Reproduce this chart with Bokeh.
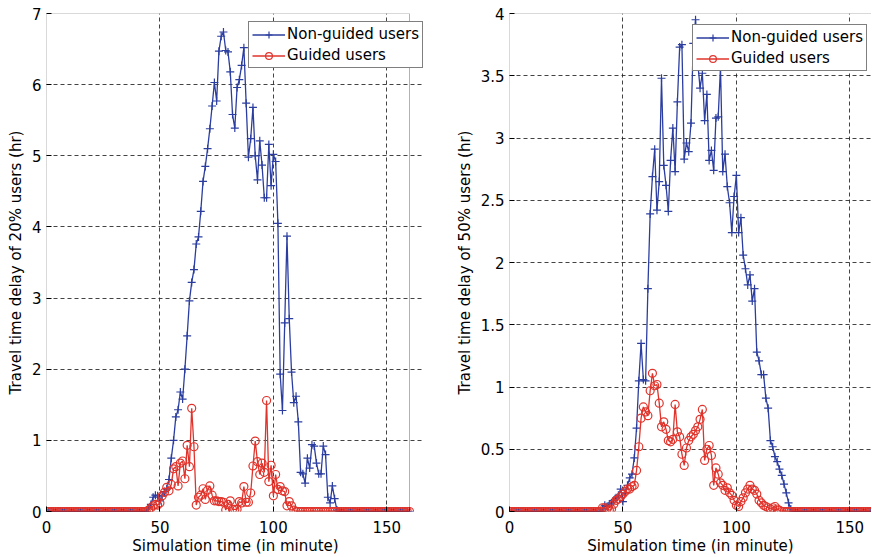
from bokeh.plotting import figure
from bokeh.layouts import row
from bokeh.models import FixedTicker, Range1d, Legend, PolyAnnotation
from bokeh.embed import file_html
from bokeh.resources import INLINE

# ---------------- data ----------------
time_min = list(range(0, 161))

# 20% guided scenario (left panel)
nonguided_20_nonzero = {
    45: 0.05, 46: 0.10, 47: 0.20, 48: 0.23, 49: 0.22, 50: 0.15, 51: 0.22, 52: 0.28,
    53: 0.32, 54: 0.45, 55: 0.75, 56: 1.00, 57: 1.33, 58: 1.43, 59: 1.68, 60: 1.58,
    61: 2.00, 62: 2.47, 63: 2.96, 64: 3.22, 65: 3.40, 66: 3.76, 67: 3.86, 68: 4.22,
    69: 4.64, 70: 4.85, 71: 5.10, 72: 5.38, 73: 5.70, 74: 6.03, 75: 5.77, 76: 6.47,
    77: 6.68, 78: 6.74, 79: 6.48, 80: 6.46, 81: 6.18, 82: 5.58, 83: 5.39, 84: 5.96,
    85: 6.07, 86: 6.27, 87: 6.52, 88: 5.74, 89: 4.98, 90: 5.24, 91: 5.68, 92: 5.00,
    93: 4.66, 94: 5.21, 95: 4.87, 96: 4.41, 97: 4.41, 98: 5.16, 99: 4.58, 100: 5.02,
    101: 4.92, 102: 4.05, 103: 1.93, 104: 1.42, 105: 2.65, 106: 3.87, 107: 2.71,
    108: 1.96, 109: 1.53, 110: 1.62, 111: 1.26, 112: 0.55, 113: 0.53, 114: 0.40,
    115: 0.75, 116: 0.61, 117: 0.94, 118: 0.92, 119: 0.68, 120: 0.53, 121: 0.53,
    122: 0.92, 123: 0.80, 124: 0.20, 125: 0.12, 126: 0.36, 127: 0.18, 128: 0.02,
}
guided_20_nonzero = {
    45: 0.02, 46: 0.05, 47: 0.08, 48: 0.10, 49: 0.09, 50: 0.12, 51: 0.22, 52: 0.27,
    53: 0.34, 54: 0.29, 55: 0.38, 56: 0.60, 57: 0.63, 58: 0.36, 59: 0.68, 60: 0.71,
    61: 0.46, 62: 0.93, 63: 0.63, 64: 1.45, 65: 0.91, 66: 0.09, 67: 0.20, 68: 0.23,
    69: 0.32, 70: 0.17, 71: 0.30, 72: 0.36, 73: 0.23, 74: 0.15, 75: 0.15, 76: 0.14,
    77: 0.14, 78: 0.13, 79: 0.02, 80: 0.10, 81: 0.15, 82: 0.03, 83: 0.03, 84: 0.03,
    85: 0.14, 86: 0.12, 87: 0.35, 88: 0.13, 89: 0.13, 90: 0.26, 91: 0.64, 92: 0.99,
    93: 0.70, 94: 0.52, 95: 0.68, 96: 0.55, 97: 1.56, 98: 0.42, 99: 0.65, 100: 0.22,
    101: 0.52, 102: 0.31, 103: 0.35, 104: 0.29, 105: 0.28, 106: 0.08, 107: 0.14,
    108: 0.08, 109: 0.02,
}

# 50% guided scenario (right panel)
nonguided_50_nonzero = {
    41: 0.02, 42: 0.05, 43: 0.04, 44: 0.06, 45: 0.07, 46: 0.09, 47: 0.11, 48: 0.13,
    49: 0.18, 50: 0.08, 51: 0.15, 52: 0.21, 53: 0.27, 54: 0.30, 55: 0.43, 56: 0.67,
    57: 1.05, 58: 1.35, 59: 1.06, 60: 1.05, 61: 1.79, 62: 2.39, 63: 2.69, 64: 2.91,
    65: 2.42, 66: 2.65, 67: 3.48, 68: 2.78, 69: 2.62, 70: 2.41, 71: 2.82, 72: 3.08,
    73: 2.73, 74: 3.29, 75: 3.73, 76: 3.75, 77: 2.83, 78: 2.96, 79: 2.89, 80: 3.12,
    81: 3.76, 82: 3.95, 83: 3.60, 84: 3.40, 85: 3.52, 86: 3.14, 87: 3.35, 88: 2.82,
    89: 2.90, 90: 2.74, 91: 3.16, 92: 3.17, 93: 3.57, 94: 2.73, 95: 2.87, 96: 2.61,
    97: 2.48, 98: 2.24, 99: 2.53, 100: 2.70, 101: 2.24, 102: 2.36, 103: 2.06,
    104: 1.95, 105: 1.82, 106: 1.90, 107: 1.69, 108: 1.79, 109: 1.28, 110: 1.21,
    111: 1.10, 112: 1.10, 113: 0.91, 114: 0.83, 115: 0.57, 116: 0.52, 117: 0.44,
    118: 0.40, 119: 0.34, 120: 0.29, 121: 0.22, 122: 0.15, 123: 0.07, 124: 0.02,
}
guided_50_nonzero = {
    41: 0.03, 42: 0.03, 43: 0.02, 44: 0.01, 45: 0.02, 46: 0.06, 47: 0.09, 48: 0.10,
    49: 0.12, 50: 0.14, 51: 0.16, 52: 0.18, 53: 0.18, 54: 0.20, 55: 0.21, 56: 0.33,
    57: 0.52, 58: 0.75, 59: 0.84, 60: 0.80, 61: 0.77, 62: 0.97, 63: 1.11, 64: 1.01,
    65: 1.02, 66: 0.87, 67: 0.68, 68: 0.72, 69: 0.66, 70: 0.57, 71: 0.56, 72: 0.58,
    73: 0.86, 74: 0.64, 75: 0.60, 76: 0.46, 77: 0.37, 78: 0.51, 79: 0.57, 80: 0.60,
    81: 0.62, 82: 0.65, 83: 0.68, 84: 0.74, 85: 0.82, 86: 0.41, 87: 0.50, 88: 0.53,
    89: 0.45, 90: 0.21, 91: 0.35, 92: 0.30, 93: 0.23, 94: 0.21, 95: 0.17, 96: 0.19,
    97: 0.15, 98: 0.13, 99: 0.09, 100: 0.05, 101: 0.04, 102: 0.08, 103: 0.11,
    104: 0.15, 105: 0.18, 106: 0.21, 107: 0.18, 108: 0.17, 109: 0.14, 110: 0.09,
    111: 0.07, 112: 0.05, 113: 0.04, 114: 0.03, 115: 0.02, 116: 0.03, 117: 0.04,
    118: 0.02, 119: 0.01,
}

nonguided_20 = [nonguided_20_nonzero.get(t, 0.0) for t in time_min]
guided_20 = [guided_20_nonzero.get(t, 0.0) for t in time_min]
nonguided_50 = [nonguided_50_nonzero.get(t, 0.0) for t in time_min]
guided_50 = [guided_50_nonzero.get(t, 0.0) for t in time_min]

x_ticks = [0, 50, 100, 150]
x_max = 160
y_ticks_20 = [0, 1, 2, 3, 4, 5, 6, 7]
y_labels_20 = ["0", "1", "2", "3", "4", "5", "6", "7"]
y_ticks_50 = [0, 0.5, 1, 1.5, 2, 2.5, 3, 3.5, 4]
y_labels_50 = ["0", "0.5", "1", "1.5", "2", "2.5", "3", "3.5", "4"]

BLUE = "#2b3ea0"
RED = "#e0332b"
FONT = "DejaVu Sans"
FS = "15px"
PX_PER_MIN = 363.0 / x_max


def style_axis(ax):
    ax.axis_line_color = None
    ax.major_tick_line_color = "black"
    ax.major_tick_in = 5
    ax.major_tick_out = 0
    ax.minor_tick_line_color = None
    ax.major_label_text_font = FONT
    ax.major_label_text_font_size = FS
    ax.major_label_text_color = "black"
    ax.axis_label_text_font = FONT
    ax.axis_label_text_font_size = FS
    ax.axis_label_text_font_style = "normal"
    ax.axis_label_text_color = "black"


def make_panel(nong, guid, y_end, yt, yl, ylabel, frame_w, mb_left, mb_right,
               leg_loc, box_right):
    x_end = frame_w / PX_PER_MIN
    p = figure(
        frame_width=frame_w, frame_height=498,
        x_range=Range1d(0, x_end), y_range=Range1d(0, y_end),
        output_backend="svg", toolbar_location=None,
        min_border_left=mb_left, min_border_right=mb_right,
        min_border_top=13, min_border_bottom=46,
        background_fill_color="white", border_fill_color="white",
    )
    p.outline_line_color = None
    p.xaxis.ticker = FixedTicker(ticks=x_ticks)
    p.yaxis.ticker = FixedTicker(ticks=yt)
    p.yaxis.major_label_overrides = {t: l for t, l in zip(yt, yl)}
    p.xaxis.axis_label = "Simulation time (in minute)"
    p.yaxis.axis_label = ylabel
    style_axis(p.xaxis[0])
    style_axis(p.yaxis[0])
    p.xaxis.major_label_standoff = 9
    p.yaxis.major_label_standoff = 5
    p.xaxis.axis_label_standoff = 1
    p.yaxis.axis_label_standoff = 4

    for g in (p.xgrid[0], p.ygrid[0]):
        g.grid_line_color = "#222222"
        g.grid_line_dash = "4 3"
        g.grid_line_width = 1
        g.grid_line_alpha = 0.85
    p.xgrid.ticker = FixedTicker(ticks=x_ticks)
    p.ygrid.ticker = FixedTicker(ticks=yt)
    p.ygrid.bounds = (0, x_max)

    l1 = p.line(time_min, nong, line_color=BLUE, line_width=1.3)
    s1 = p.scatter(time_min, nong, marker="cross", size=8, line_color=BLUE, line_width=1.2)
    l2 = p.line(time_min, guid, line_color=RED, line_width=1.3)
    s2 = p.scatter(time_min, guid, marker="circle", size=8, line_color=RED,
                   fill_color=None, line_width=1.2)

    # axes box (MATLAB style)
    box = PolyAnnotation(xs=[0, box_right, box_right, 0], ys=[0, 0, y_end, y_end],
                         fill_color=None, line_color="black", line_width=1)
    p.add_layout(box)

    legend = Legend(items=[("Non-guided users", [l1, s1]), ("Guided users", [l2, s2])],
                    location=leg_loc)
    legend.label_text_font = FONT
    legend.label_text_font_size = FS
    legend.label_text_color = "black"
    legend.border_line_color = "black"
    legend.border_line_width = 1
    legend.background_fill_color = "white"
    legend.background_fill_alpha = 1.0
    legend.padding = 3
    legend.spacing = 3
    legend.margin = 0
    legend.glyph_width = 33
    legend.glyph_height = 17
    legend.label_height = 17
    legend.label_standoff = 2
    p.add_layout(legend, "center")
    return p


# left panel: frame extended past the axes box so the legend may overhang it
p1 = make_panel(nonguided_20, guided_20, 7, y_ticks_20, y_labels_20,
                "Travel time delay of 20% users (hr)", 378, 46, 28, (202, 443), x_max)
p2 = make_panel(nonguided_50, guided_50, 4, y_ticks_50, y_labels_50,
                "Travel time delay of 50% users (hr)", 362, 55, 0, (183, 440), x_max + 15)

layout = row(p1, p2)
open("out.html", "w").write(file_html(layout, INLINE))
